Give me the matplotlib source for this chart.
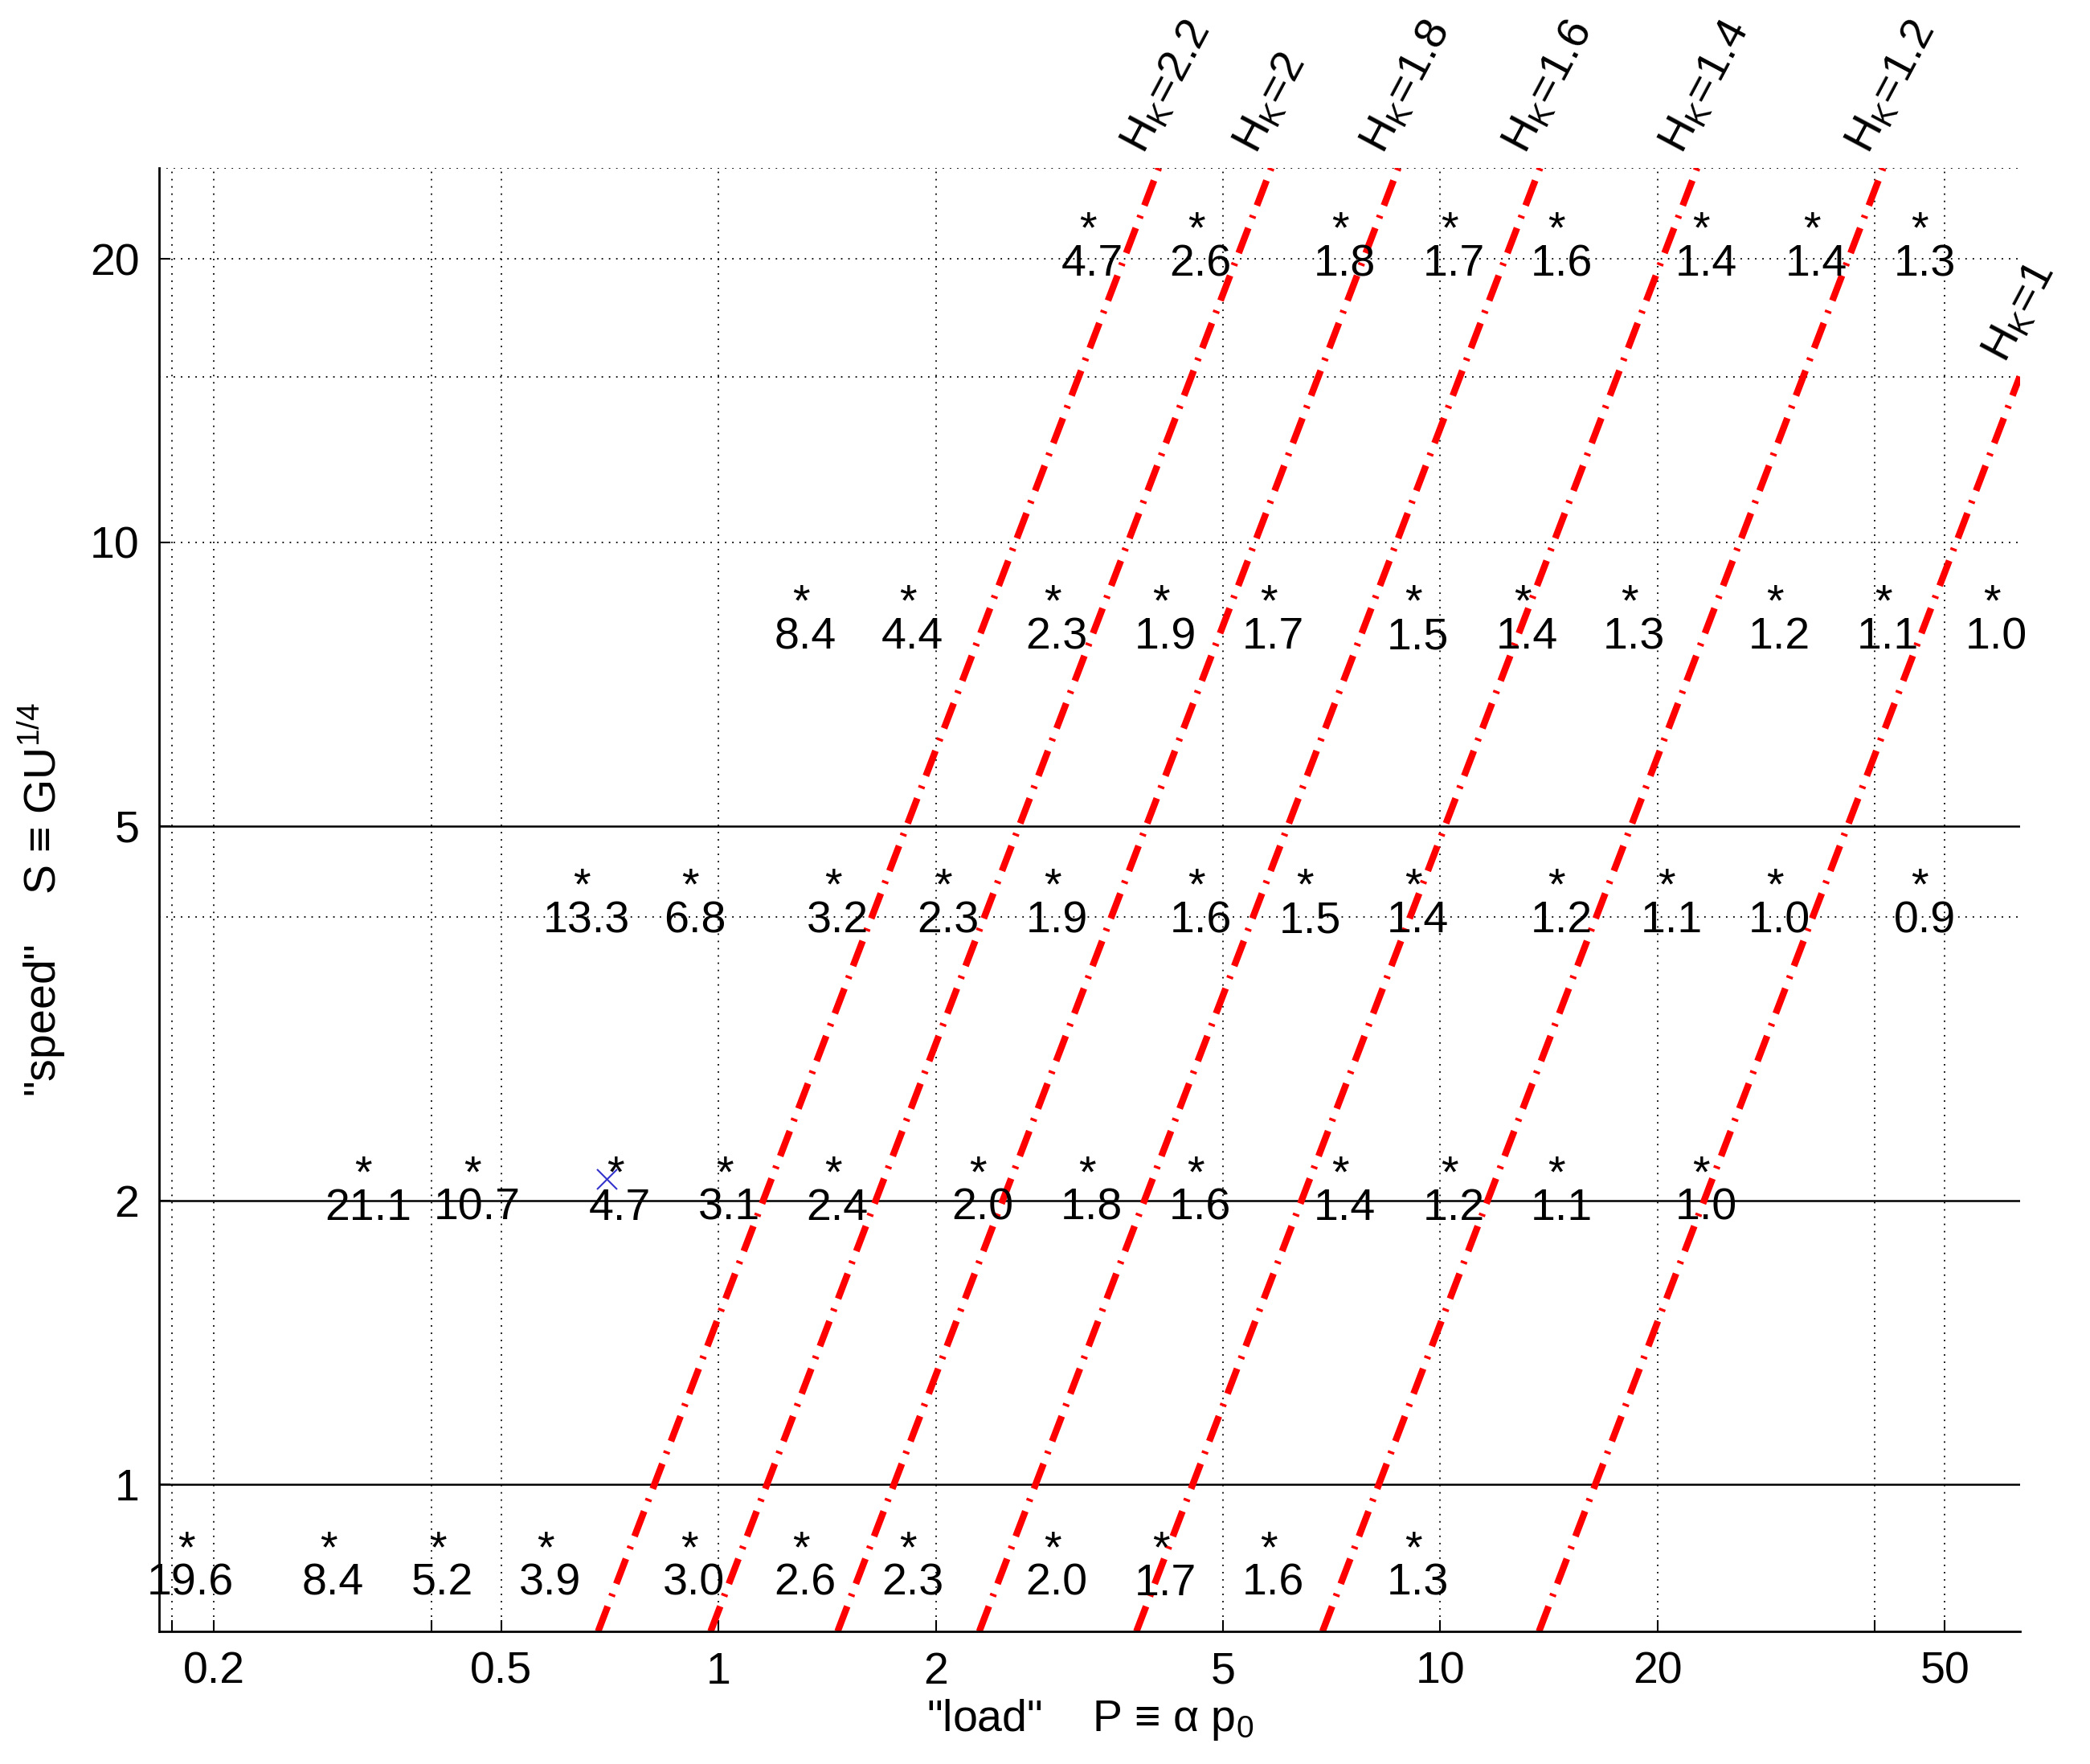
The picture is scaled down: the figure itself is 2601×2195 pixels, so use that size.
import numpy as np
import matplotlib
matplotlib.use("Agg")
import matplotlib.pyplot as plt

plt.rcParams['font.family'] = ['Liberation Sans', 'DejaVu Sans']

# rows of (load P, speed S, label)
row1_x = [3.25, 4.59, 7.26, 10.3, 14.5, 23.0, 32.7, 46.2]
row1_lab = ['4.7', '2.6', '1.8', '1.7', '1.6', '1.4', '1.4', '1.3']
row2_x = [1.30, 1.83, 2.90, 4.10, 5.79, 9.18, 13.0, 18.3, 29.1, 41.1, 58.1]
row2_lab = ['8.4', '4.4', '2.3', '1.9', '1.7', '1.5', '1.4', '1.3', '1.2', '1.1', '1.0']
row3_x = [0.647, 0.914, 1.44, 2.05, 2.90, 4.59, 6.50, 9.18, 14.5, 20.6, 29.1, 46.2]
row3_lab = ['13.3', '6.8', '3.2', '2.3', '1.9', '1.6', '1.5', '1.4', '1.2', '1.1', '1.0', '0.9']
row4_x = [0.322, 0.456, 0.72, 1.02, 1.44, 2.29, 3.24, 4.58, 7.26, 10.3, 14.5, 23.0]
row4_lab = ['21.1', '10.7', '4.7', '3.1', '2.4', '2.0', '1.8', '1.6', '1.4', '1.2', '1.1', '1.0']
row5_x = [0.183, 0.288, 0.408, 0.576, 0.91, 1.30, 1.83, 2.90, 4.10, 5.79, 9.18]
row5_lab = ['19.6', '8.4', '5.2', '3.9', '3.0', '2.6', '2.3', '2.0', '1.7', '1.6', '1.3']
row_y = [21.4, 8.6, 4.3, 2.13, 0.851]

# H_K lines: S = (P / p1)^2, p1 = load at S = 1
hk_vals = ['2.2', '2', '1.8', '1.6', '1.4', '1.2', '1']
hk_p1 = [0.815, 1.167, 1.75, 2.75, 4.54, 8.22, 16.4]
hk_top = [25, 25, 25, 25, 25, 25, 15]

marked_x, marked_y = 0.70, 2.11

fig = plt.figure(figsize=(26.01, 21.95), dpi=100)
ax = fig.add_axes([0.0763, 0.0752, 0.8903, 0.8298])
ax.set_xscale('log')
ax.set_yscale('log')
ax.set_xlim(0.168, 63.6)
ax.set_ylim(0.698, 25)

# grid
for gx in [0.175, 0.2, 0.4, 0.5, 1, 2, 5, 10, 20, 40, 50]:
    ax.axvline(gx, color='black', ls=(0, (1, 4)), lw=1.3, zorder=0)
for gy in [4, 10, 15, 20, 25]:
    ax.axhline(gy, color='black', ls=(0, (1, 4)), lw=1.3, zorder=0)
for gy in [1, 2, 5]:
    ax.axhline(gy, color='black', lw=1.8, zorder=0)

fs = 40
rows = [(row1_x, row1_lab), (row2_x, row2_lab), (row3_x, row3_lab),
        (row4_x, row4_lab), (row5_x, row5_lab)]
for (xs, labs), y in zip(rows, row_y):
    for x, lab in zip(xs, labs):
        ax.text(x, y, '*', fontsize=fs, ha='center', va='center', zorder=3)
        ax.annotate(lab, (x, y), xytext=(4, -30), textcoords='offset points',
                    fontsize=fs, ha='center', va='center', zorder=3)

ax.plot([marked_x], [marked_y], 'x', color='#3333cc', ms=18, mew=1.5, zorder=4)

for v, p1, top in zip(hk_vals, hk_p1, hk_top):
    s = np.array([0.698, top])
    p = p1 * np.sqrt(s)
    ax.plot(p, s, color='red', ls=(0, (4, 1.6, 0.4, 1.6)), lw=6, zorder=2)
    ax.text(p[-1] * 0.98, top * 1.02, r'$\mathregular{H_K}$=' + v, fontsize=fs,
            rotation=62, rotation_mode='anchor', ha='left', va='bottom',
            clip_on=False)

ax.set_xticks([0.175, 0.2, 0.4, 0.5, 1, 2, 5, 10, 20, 40, 50])
ax.set_xticklabels(['', '0.2', '', '0.5', '1', '2', '5', '10', '20', '', '50'])
ax.set_yticks([1, 2, 5, 10, 20])
ax.set_yticklabels(['1', '2', '5', '10', '20'])
ax.minorticks_off()
ax.tick_params(labelsize=fs, length=10, width=1.5, direction='in', pad=18)
for sp in ['top', 'right']:
    ax.spines[sp].set_visible(False)
for sp in ['left', 'bottom']:
    ax.spines[sp].set_linewidth(2)

ax.set_xlabel('"load"    P ≡ α p$\\mathregular{_0}$', fontsize=fs, labelpad=4)
ax.set_ylabel('"speed"    S ≡ GU$\\mathregular{^{1/4}}$', fontsize=fs, labelpad=20)

fig.savefig('out.png', dpi=100, facecolor='white')
